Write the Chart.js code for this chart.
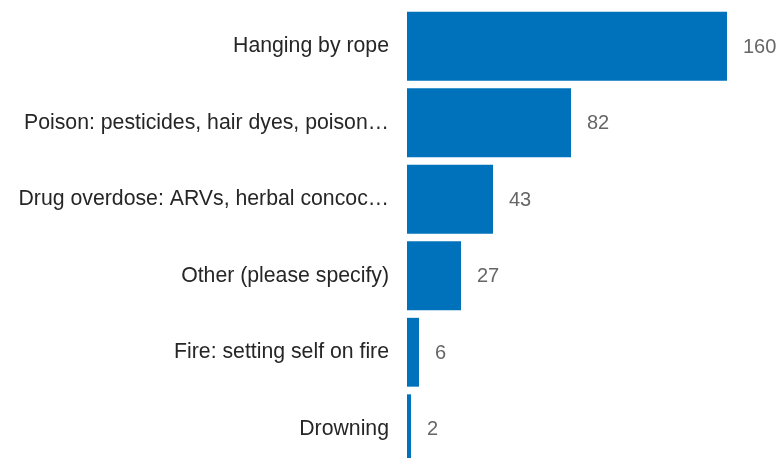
<!DOCTYPE html>
<html>
<head>
<meta charset="utf-8">
<script src="https://cdn.jsdelivr.net/npm/chart.js@4"></script>
<style>
  html, body { margin: 0; padding: 0; background: #fff; overflow: hidden; }
  #wrap { position: relative; width: 777px; height: 467px; }
</style>
</head>
<body>
<div id="wrap"><canvas id="grafico"></canvas></div>
<script>
// datos
const categorias = [
  "Hanging by rope",
  "Poison: pesticides, hair dyes, poison\u2026",
  "Drug overdose: ARVs, herbal concoc\u2026",
  "Other (please specify)",
  "Fire: setting self on fire",
  "Drowning"
];
const valores = [160, 82, 43, 27, 6, 2];

const FUENTE = '"Liberation Sans", Arial, sans-serif';

// etiquetas con el valor al final de cada barra
const etiquetasValor = {
  id: "etiquetasValor",
  afterDatasetsDraw(chart) {
    const ctx = chart.ctx;
    const meta = chart.getDatasetMeta(0);
    ctx.save();
    ctx.font = "20px " + FUENTE;
    ctx.fillStyle = "#666666";
    ctx.textAlign = "left";
    ctx.textBaseline = "middle";
    meta.data.forEach((bar, i) => {
      ctx.fillText(String(valores[i]), bar.x + 16, bar.y + 1);
    });
    ctx.restore();
  }
};

const ctx = document.getElementById("grafico").getContext("2d");
new Chart(ctx, {
  type: "bar",
  data: {
    labels: categorias,
    datasets: [{
      data: valores,
      backgroundColor: "#0072BC",
      borderWidth: 0,
      barPercentage: 0.9,
      categoryPercentage: 1
    }]
  },
  options: {
    indexAxis: "y",
    responsive: true,
    maintainAspectRatio: false,
    animation: false,
    layout: { padding: { top: 8, bottom: 0, left: 0, right: 0 } },
    plugins: { legend: { display: false }, tooltip: { enabled: false } },
    scales: {
      x: { display: false, min: 0, max: 185 },
      y: {
        grid: { display: false, drawTicks: false },
        border: { display: false },
        ticks: {
          color: "#262626",
          font: { size: 21.25, family: FUENTE },
          padding: 18,
          autoSkip: false
        },
        afterFit(scale) {
          scale.width = 407;
          scale.paddingTop = 0;
          scale.paddingBottom = 0;
        }
      }
    }
  },
  plugins: [etiquetasValor]
});
</script>
</body>
</html>
